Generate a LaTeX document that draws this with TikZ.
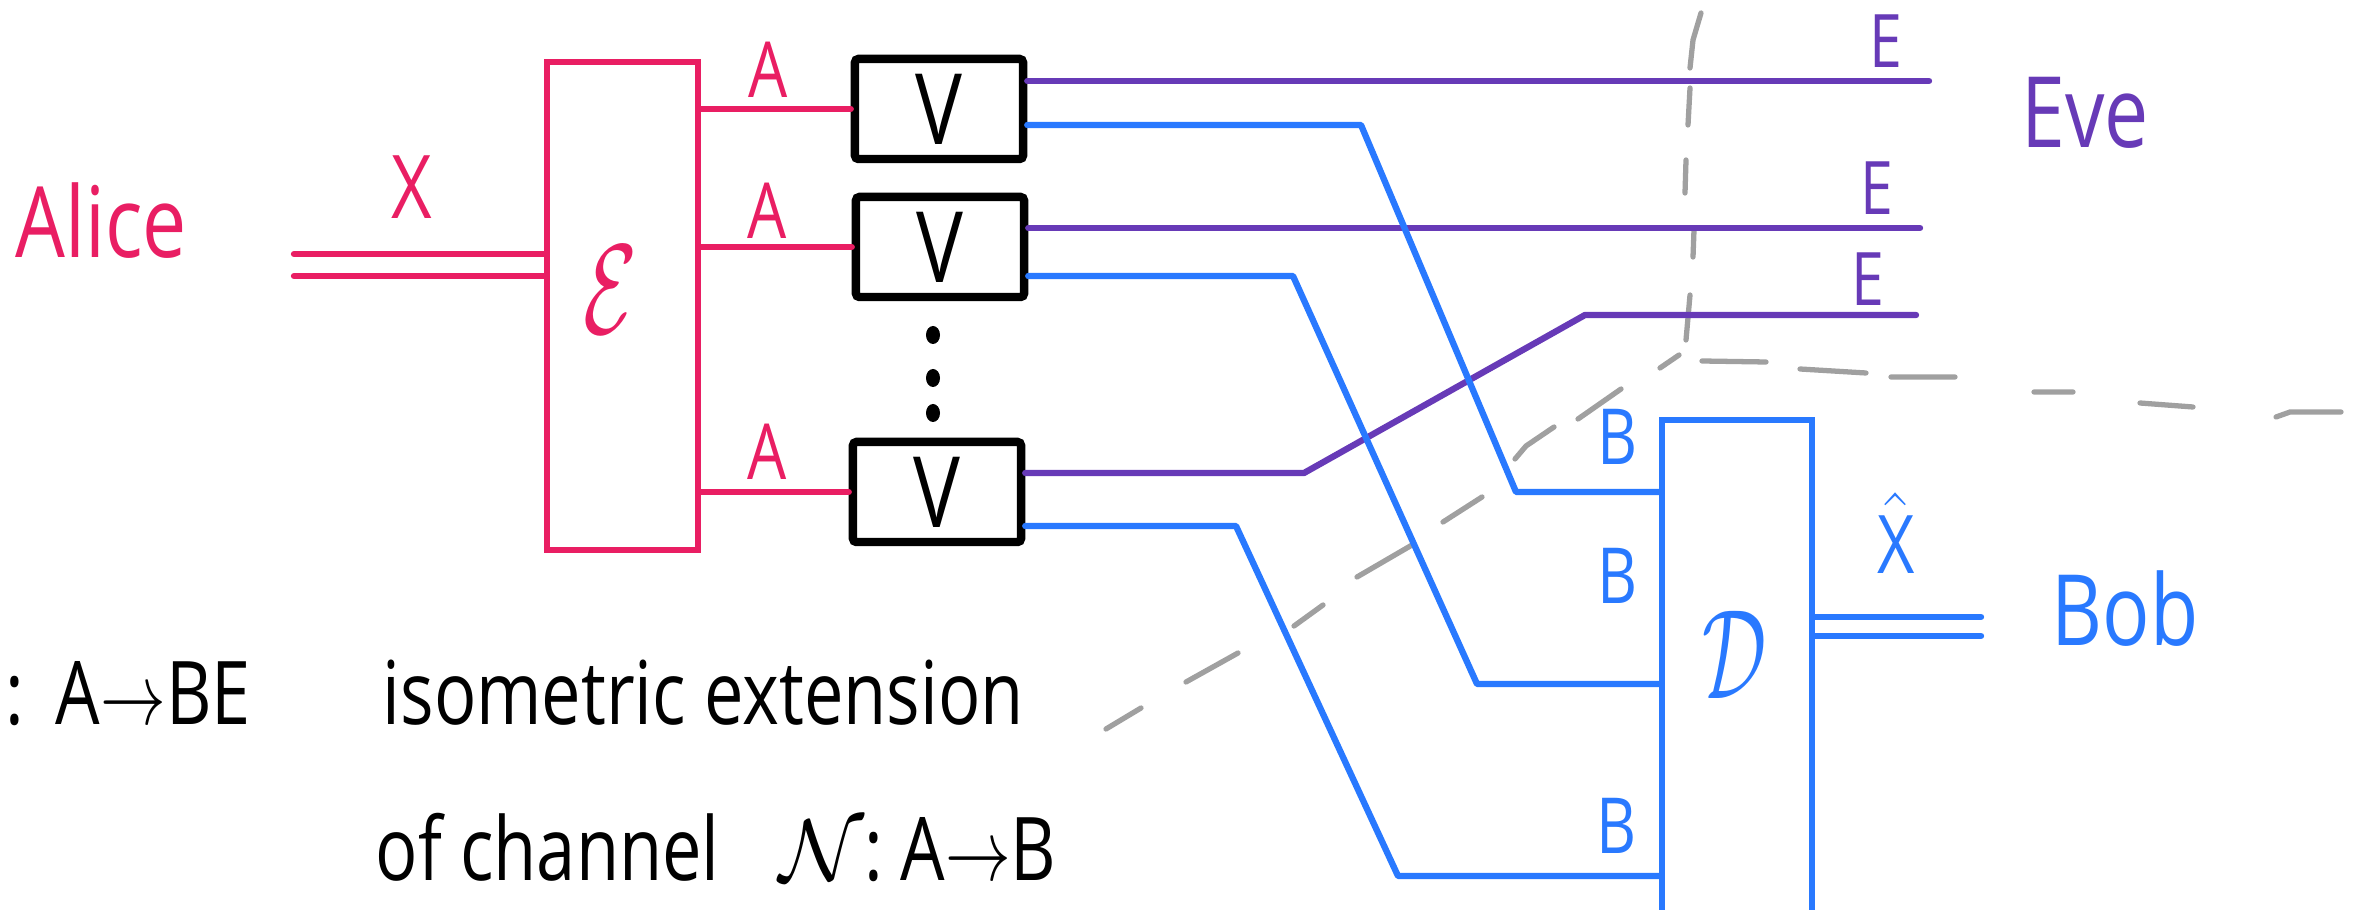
\documentclass[tikz,border=0pt]{standalone}
\usepackage{fontspec}
\newfontfamily\hand[FakeStretch=0.8]{Open Sans}
\definecolor{rosec}{HTML}{E91E63}
\definecolor{violc}{HTML}{673AB7}
\definecolor{bluec}{HTML}{2979FF}
\definecolor{grayc}{HTML}{A0A0A0}

\begin{document}
\begin{tikzpicture}[x=0.01cm, y=-0.01cm,
  lbl/.style={inner sep=0pt, font=\hand\fontsize{#1}{#1}\selectfont},
  calig/.style={inner sep=0pt, font=\fontsize{20}{20}\selectfont},
  rwire/.style={draw=rosec, line width=1.8pt, line cap=round, line join=round},
  pwire/.style={draw=violc, line width=1.8pt, line cap=round, line join=round},
  bwire/.style={draw=bluec, line width=1.8pt, line cap=round, line join=round},
  vbox/.style={draw=black, line width=2.4pt, rounded corners=1pt, minimum width=1.68cm,
    minimum height=1.0cm, inner sep=0pt, font=\hand\fontsize{28}{28}\selectfont},
  boundary/.style={draw=grayc, line width=1.5pt, line cap=round, line join=round}]
\newcommand{\harrow}{\scalebox{0.75}[1]{$\to$}}

\useasboundingbox (0,0) rectangle (2363,910);

% ---- region boundary (drawn first, under the wires)
\draw[boundary]
  (1106,729) -- (1141,708)  (1186,682) -- (1238,653)  (1294,626) -- (1323,605)
  (1357,577) -- (1412,545)  (1443,522) -- (1482,497)
  (1515,459) -- (1526,446) -- (1554,427)  (1578,419) -- (1621,389)
  (1660,368) -- (1679,355)
  (1686,340) -- (1690,295)  (1693,257) -- (1694,230)  (1685,193) -- (1686,160)
  (1688,125) -- (1690,88)   (1690,68) -- (1693,40) -- (1701,13)
  (1702,361) -- (1766,362)  (1800,369) -- (1866,373)  (1891,377) -- (1955,377)
  (2034,392) -- (2073,392)  (2140,403) -- (2193,407)
  (2276,417) -- (2290,412) -- (2341,412);

% ---- Alice and the encoder
\node[lbl=28, text=rosec, anchor=base west] (alice) at (15,258) {Alice};
\node[lbl=25, text=rosec] (xlab) at (412,187) {X};
\node[draw=rosec, line width=1.8pt, minimum width=1.51cm, minimum height=4.88cm,
      inner sep=0pt] (enc) at (622.5,306) {};
\node[calig, text=rosec] (enclab) at (611,290) {\scalebox{1.2}[1.75]{$\mathcal{E}$}};
\coordinate (xa) at (294,254);
\coordinate (xb) at (294,276);
\draw[rwire] (xa) -- (xa -| enc.west);
\draw[rwire] (xb) -- (xb -| enc.west);

% ---- isometries
\node[vbox] (v1) at (939,109) {V};
\node[vbox] (v2) at (940,247) {V};
\node[vbox] (v3) at (937,492) {V};
\foreach \y in {335, 378, 413}
  \fill (933,\y) ellipse [x radius=0.07cm, y radius=0.09cm];

\draw[rwire] (enc.east |- v1.west) -- (v1.west);
\draw[rwire] (enc.east |- v2.west) -- (v2.west);
\draw[rwire] (enc.east |- v3.west) -- (v3.west);
\node[lbl=22, text=rosec] (a1) at (768,70) {A};
\node[lbl=22, text=rosec] (a2) at (767,211) {A};
\node[lbl=22, text=rosec] (a3) at (767,452) {A};

% ---- environment outputs (Eve)
\coordinate (eo1) at (1929,81);
\coordinate (eo2) at (1920,228);
\coordinate (pk1) at (1304,473);
\coordinate (pk2) at (1585,315);
\coordinate (eo3) at (1916,315);
\draw[pwire] (v1.east |- eo1) -- (eo1);
\draw[pwire] (v2.east |- eo2) -- (eo2);
\draw[pwire] (v3.east |- pk1) -- (pk1) -- (pk2) -- (eo3);
\node[lbl=21, text=violc] (e1) at (1886,41) {E};
\node[lbl=21, text=violc] (e2) at (1877,188) {E};
\node[lbl=21, text=violc] (e3) at (1868,279) {E};
\node[lbl=28, text=violc, anchor=base west] (eve) at (2021,148) {Eve};

% ---- decoder (Bob)
\node[draw=bluec, line width=1.8pt, minimum width=1.5cm, minimum height=5.1cm,
      inner sep=0pt] (dec) at (1737,675) {};
\node[calig, text=bluec] (declab) at (1735,655) {\scalebox{1.1}[1.75]{$\mathcal{D}$}};

\coordinate (bk11) at (1361,125);
\coordinate (bk12) at (1516,492);
\coordinate (bk21) at (1293,276);
\coordinate (bk22) at (1477,684);
\coordinate (bk31) at (1236,526);
\coordinate (bk32) at (1398,876);
\draw[bwire] (v1.east |- bk11) -- (bk11) -- (bk12) -- (bk12 -| dec.west);
\draw[bwire] (v2.east |- bk21) -- (bk21) -- (bk22) -- (bk22 -| dec.west);
\draw[bwire] (v3.east |- bk31) -- (bk31) -- (bk32) -- (bk32 -| dec.west);
\node[lbl=22, text=bluec] (b1) at (1618,437) {B};
\node[lbl=22, text=bluec] (b2) at (1618,576) {B};
\node[lbl=22, text=bluec] (b3) at (1617,826) {B};

\coordinate (ya) at (1981,617);
\coordinate (yb) at (1981,636);
\draw[bwire] (dec.east |- ya) -- (ya);
\draw[bwire] (dec.east |- yb) -- (yb);
\node[lbl=23, text=bluec] (xhat) at (1896,533) {$\hat{\mbox{X}}$};
\node[lbl=28, text=bluec, anchor=base west] (bob) at (2051,646) {Bob};

% ---- caption
\node[lbl=25, anchor=base west] (cap1) at (5,725) {:\hspace{9pt}A\harrow BE};
\node[lbl=25, anchor=base west] (cap2) at (382,725) {isometric extension};
\node[lbl=25, anchor=base west] (cap3) at (375,880) {of channel};
\node[lbl=25, anchor=base west] (cap4) at (779,880) {$\mathcal{N}$:\hspace{5pt}A\harrow B};
\end{tikzpicture}
\end{document}
